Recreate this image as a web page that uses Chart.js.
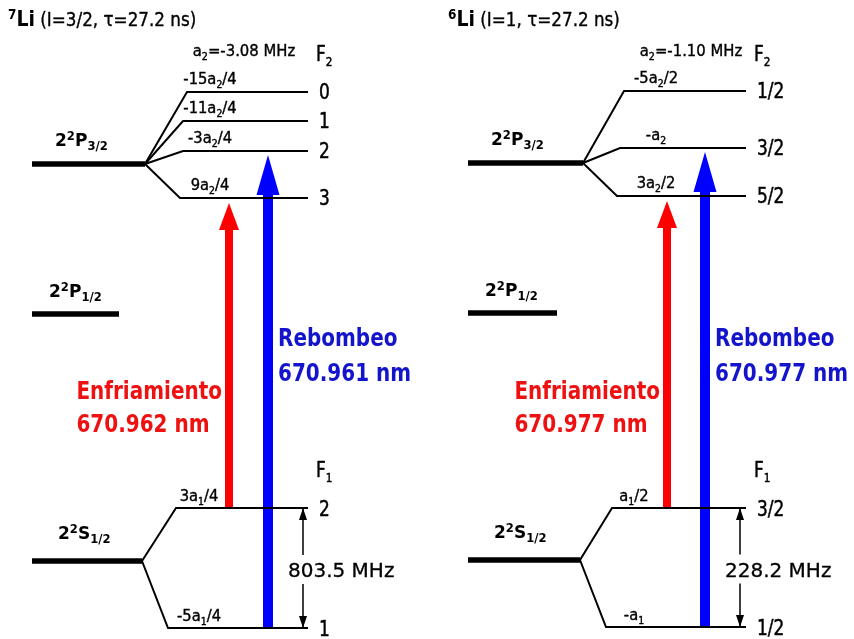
<!DOCTYPE html>
<html>
<head>
<meta charset="utf-8">
<script src="https://cdn.jsdelivr.net/npm/chart.js@4"></script>
<style>
  html, body { margin: 0; padding: 0; background: #fff; }
  canvas { display: block; }
</style>
</head>
<body>
<canvas id="diagram" width="854" height="639"></canvas>
<script>
// Energy-level scheme for 7Li and 6Li (D2 line), diagram units: x across, y down the page.
// Markup in labels: _x / _{..} subscript, ^x superscript, **..** bold.

// ---- 7Li ----
const li7Title = '**^7Li** (I=3/2, τ=27.2 ns)';
const li7A2 = 'a_2=-3.08 MHz';
const li7P32 = [32, 145, 164];          // level start, branch point, height
const li7P12 = [32, 119, 314];
const li7S12 = [32, 142, 561];
const li7UpperF = ['0', '1', '2', '3'];
const li7UpperY = [92, 121, 151, 198];
const li7UpperX = [187, 183, 183, 180];
const li7UpperShift = ['-15a_2/4', '-11a_2/4', '-3a_2/4', '9a_2/4'];
const li7LowerF = ['2', '1'];
const li7LowerY = [508, 628];
const li7LowerX = [176, 168];
const li7LowerShift = ['3a_1/4', '-5a_1/4'];
const li7LevelEnd = 308;
const li7Beams = [229, 268];            // cooling x, repump x
const li7Cooling = ['Enfriamiento', '670.962 nm'];
const li7Repump = ['Rebombeo', '670.961 nm'];
const li7SplitX = 303;
const li7Split = '803.5 MHz';

// ---- 6Li ----
const li6Title = '**^6Li** (I=1, τ=27.2 ns)';
const li6A2 = 'a_2=-1.10 MHz';
const li6P32 = [468, 583, 163];
const li6P12 = [468, 557, 313];
const li6S12 = [468, 580, 560];
const li6UpperF = ['1/2', '3/2', '5/2'];
const li6UpperY = [91, 148, 196];
const li6UpperX = [624, 620, 617];
const li6UpperShift = ['-5a_2/2', '-a_2', '3a_2/2'];
const li6LowerF = ['3/2', '1/2'];
const li6LowerY = [508, 627];
const li6LowerX = [612, 606];
const li6LowerShift = ['a_1/2', '-a_1'];
const li6LevelEnd = 746;
const li6Beams = [667, 705];
const li6Cooling = ['Enfriamiento', '670.977 nm'];
const li6Repump = ['Rebombeo', '670.977 nm'];
const li6SplitX = 740;
const li6Split = '228.2 MHz';

// panel table (label anchors are layout, kept here)
const panels = [
  { title: li7Title, a2: li7A2, P32: li7P32, P12: li7P12, S12: li7S12,
    upF: li7UpperF, upY: li7UpperY, upX: li7UpperX, upShift: li7UpperShift,
    loF: li7LowerF, loY: li7LowerY, loX: li7LowerX, loShift: li7LowerShift,
    end: li7LevelEnd, beams: li7Beams, cool: li7Cooling, rep: li7Repump,
    coolTo: 3, repTo: 2, splitX: li7SplitX, split: li7Split,
    a2At: 244, upLabelAt: 210, loLabelAt: 199, titleAt: 8 },
  { title: li6Title, a2: li6A2, P32: li6P32, P12: li6P12, S12: li6S12,
    upF: li6UpperF, upY: li6UpperY, upX: li6UpperX, upShift: li6UpperShift,
    loF: li6LowerF, loY: li6LowerY, loX: li6LowerX, loShift: li6LowerShift,
    end: li6LevelEnd, beams: li6Beams, cool: li6Cooling, rep: li6Repump,
    coolTo: 2, repTo: 1, splitX: li6SplitX, split: li6Split,
    a2At: 691, upLabelAt: 656, loLabelAt: 634, titleAt: 448 }
];

const RED = '#ff0000', BLUE = '#0000ff';
const beamStyle = {
  cool: { color: RED, width: 8, headLen: 27, headW: 20, gap: 5 },
  rep:  { color: BLUE, width: 10, headLen: 40, headW: 23, gap: 4 }
};

const datasets = [];
function seg(points, color, width) {
  datasets.push({
    data: points.map(p => ({ x: p[0], y: p[1] })),
    showLine: true, borderColor: color, borderWidth: width,
    pointRadius: 0, tension: 0, fill: false, clip: false,
    borderCapStyle: 'butt', borderJoinStyle: 'miter'
  });
}

panels.forEach(p => {
  [p.P32, p.P12, p.S12].forEach(l => seg([[l[0], l[2]], [l[1], l[2]]], '#000', 5.5));
  p.upY.forEach((y, i) => seg([[p.P32[1], p.P32[2]], [p.upX[i], y], [p.end, y]], '#000', 2));
  p.loY.forEach((y, i) => seg([[p.S12[1], p.S12[2]], [p.loX[i], y], [p.end, y]], '#000', 2));
  seg([[p.splitX, p.loY[0]], [p.splitX, p.loY[1]]], '#000', 1.5);
});
panels.forEach(p => {
  const c = beamStyle.cool, r = beamStyle.rep;
  p.coolTip = p.upY[p.coolTo] + c.gap;
  p.repTip = p.upY[p.repTo] + r.gap;
  seg([[p.beams[0], p.loY[0]], [p.beams[0], p.coolTip + c.headLen - 2]], c.color, c.width);
  seg([[p.beams[1], p.loY[1]], [p.beams[1], p.repTip + r.headLen - 2]], r.color, r.width);
});

// ---- rich text helper ----
function parse(str) {
  const out = [];
  let bold = false, i = 0;
  while (i < str.length) {
    if (str.startsWith('**', i)) { bold = !bold; i += 2; continue; }
    const ch = str[i];
    if (ch === '_' || ch === '^') {
      i++;
      let t;
      if (str[i] === '{') { const j = str.indexOf('}', i); t = str.slice(i + 1, j); i = j + 1; }
      else { t = str[i]; i++; }
      out.push({ t: t, mode: ch === '_' ? 1 : -1, bold: bold });
    } else {
      let j = i;
      while (j < str.length && str[j] !== '_' && str[j] !== '^' && !str.startsWith('**', j)) j++;
      out.push({ t: str.slice(i, j), mode: 0, bold: bold });
      i = j;
    }
  }
  return out;
}

function baseSize(st, tok) {
  return tok.bold && st.boldSize ? st.boldSize : st.size;
}
function fontFor(st, tok) {
  const b = baseSize(st, tok);
  const size = tok.mode ? b * (st.scriptScale || 0.64) : b;
  const w = (tok.bold || st.bold) ? 'bold ' : '';
  return w + size.toFixed(1) + 'px "' + st.family + '"';
}

function richWidth(ctx, str, st) {
  let w = 0;
  parse(str).forEach(tok => { ctx.font = fontFor(st, tok); w += ctx.measureText(tok.t).width; });
  return w * (st.sx || 1);
}

function rich(ctx, str, x, y, st, align) {
  const toks = parse(str);
  const sx = st.sx || 1;
  const total = richWidth(ctx, str, st) / sx;
  let cx = align === 'center' ? -total / 2 : align === 'right' ? -total : 0;
  ctx.save();
  ctx.translate(x, y);
  ctx.scale(sx, 1);
  ctx.fillStyle = st.color || '#000';
  ctx.strokeStyle = st.color || '#000';
  ctx.lineWidth = st.weight || 0;
  ctx.lineJoin = 'round';
  ctx.textBaseline = 'alphabetic';
  ctx.textAlign = 'left';
  toks.forEach(tok => {
    ctx.font = fontFor(st, tok);
    const b = baseSize(st, tok);
    const dy = tok.mode === 1 ? b * 0.24 : tok.mode === -1 ? -b * 0.34 : 0;
    ctx.fillText(tok.t, cx, dy);
    if (st.weight && !(tok.bold || st.bold)) ctx.strokeText(tok.t, cx, dy);
    cx += ctx.measureText(tok.t).width;
  });
  ctx.restore();
}

const SANS = 'DejaVu Sans';
const fTitle = { family: SANS, size: 19.5, boldSize: 22, sx: 0.86, weight: 0.4 };
const fHfs = { family: SANS, size: 16.5, sx: 0.9, weight: 0.4 };
const fF = { family: SANS, size: 20.5, sx: 0.83, scriptScale: 0.62, weight: 0.5 };
const fShift = { family: SANS, size: 15.5, sx: 0.95, weight: 0.4 };
const fState = { family: SANS, size: 18.5, bold: true, sx: 0.92, scriptScale: 0.68 };
const fBeam = { family: SANS, size: 25, bold: true, sx: 0.8 };
const fSplit = { family: SANS, size: 20, weight: 0.3 };

function head(ctx, x, tipY, len, w, color) {
  ctx.beginPath();
  ctx.moveTo(x, tipY);
  ctx.lineTo(x + w / 2, tipY + len);
  ctx.lineTo(x - w / 2, tipY + len);
  ctx.closePath();
  ctx.fillStyle = color;
  ctx.fill();
}

const annotations = {
  id: 'annotations',
  afterDatasetsDraw(chart) {
    const ctx = chart.ctx;
    const X = v => chart.scales.x.getPixelForValue(v);
    const Y = v => chart.scales.y.getPixelForValue(v);
    const L = v => Math.abs(Y(v) - Y(0));

    panels.forEach(p => {
      const c = beamStyle.cool, r = beamStyle.rep;
      head(ctx, X(p.beams[0]), Y(p.coolTip), L(c.headLen), L(c.headW), c.color);
      head(ctx, X(p.beams[1]), Y(p.repTip), L(r.headLen), L(r.headW), r.color);

      // splitting double arrow
      head(ctx, X(p.splitX), Y(p.loY[0]), L(12), L(8), '#000');
      ctx.save();
      ctx.translate(X(p.splitX), Y(p.loY[1]));
      ctx.scale(1, -1);
      head(ctx, 0, 0, L(12), L(8), '#000');
      ctx.restore();
      const mid = (p.loY[0] + p.loY[1]) / 2;
      const sw = richWidth(ctx, p.split, fSplit);
      ctx.fillStyle = '#fff';
      ctx.fillRect(X(p.splitX) - 16, Y(mid - 13), sw + 2, L(29));
      rich(ctx, p.split, X(p.splitX) - 15, Y(mid + 9), fSplit, 'left');

      // headers
      rich(ctx, p.title, X(p.titleAt), Y(26), fTitle, 'left');
      rich(ctx, p.a2, X(p.a2At), Y(56), fHfs, 'center');
      rich(ctx, 'F_2', X(p.end + 8), Y(61), fF, 'left');
      rich(ctx, 'F_1', X(p.end + 8), Y(477), fF, 'left');

      // F values and shifts
      p.upY.forEach((y, i) => {
        rich(ctx, p.upF[i], X(p.end + 11), Y(y + 7), fF, 'left');
        rich(ctx, p.upShift[i], X(p.upLabelAt), Y(y - 8), fShift, 'center');
      });
      p.loY.forEach((y, i) => {
        rich(ctx, p.loF[i], X(p.end + 11), Y(y + 8), fF, 'left');
        rich(ctx, p.loShift[i], X(p.loLabelAt), Y(y - 7), fShift, 'center');
      });

      // term symbols
      rich(ctx, '2^2P_{3/2}', X(p.P32[0] + 23), Y(p.P32[2] - 18), fState, 'left');
      rich(ctx, '2^2P_{1/2}', X(p.P12[0] + 17), Y(p.P12[2] - 17), fState, 'left');
      rich(ctx, '2^2S_{1/2}', X(p.S12[0] + 26), Y(p.S12[2] - 22), fState, 'left');

      // beam labels
      const coolW = richWidth(ctx, p.cool[0], fBeam);
      const coolLeft = X(p.beams[0] - 7) - coolW;
      rich(ctx, p.cool[0], coolLeft, Y(399), Object.assign({ color: '#ee1111' }, fBeam), 'left');
      rich(ctx, p.cool[1], coolLeft, Y(432), Object.assign({ color: '#ee1111' }, fBeam), 'left');
      rich(ctx, p.rep[0], X(p.beams[1] + 10), Y(346), Object.assign({ color: '#1414cc' }, fBeam), 'left');
      rich(ctx, p.rep[1], X(p.beams[1] + 10), Y(381), Object.assign({ color: '#1414cc' }, fBeam), 'left');
    });
  }
};

new Chart(document.getElementById('diagram').getContext('2d'), {
  type: 'scatter',
  data: { datasets: datasets },
  options: {
    responsive: false,
    animation: false,
    events: [],
    layout: { padding: 0 },
    plugins: { legend: { display: false }, tooltip: { enabled: false } },
    scales: {
      x: { type: 'linear', min: 0, max: 854, display: false },
      y: { type: 'linear', min: 0, max: 639, reverse: true, display: false }
    }
  },
  plugins: [annotations]
});
</script>
</body>
</html>
